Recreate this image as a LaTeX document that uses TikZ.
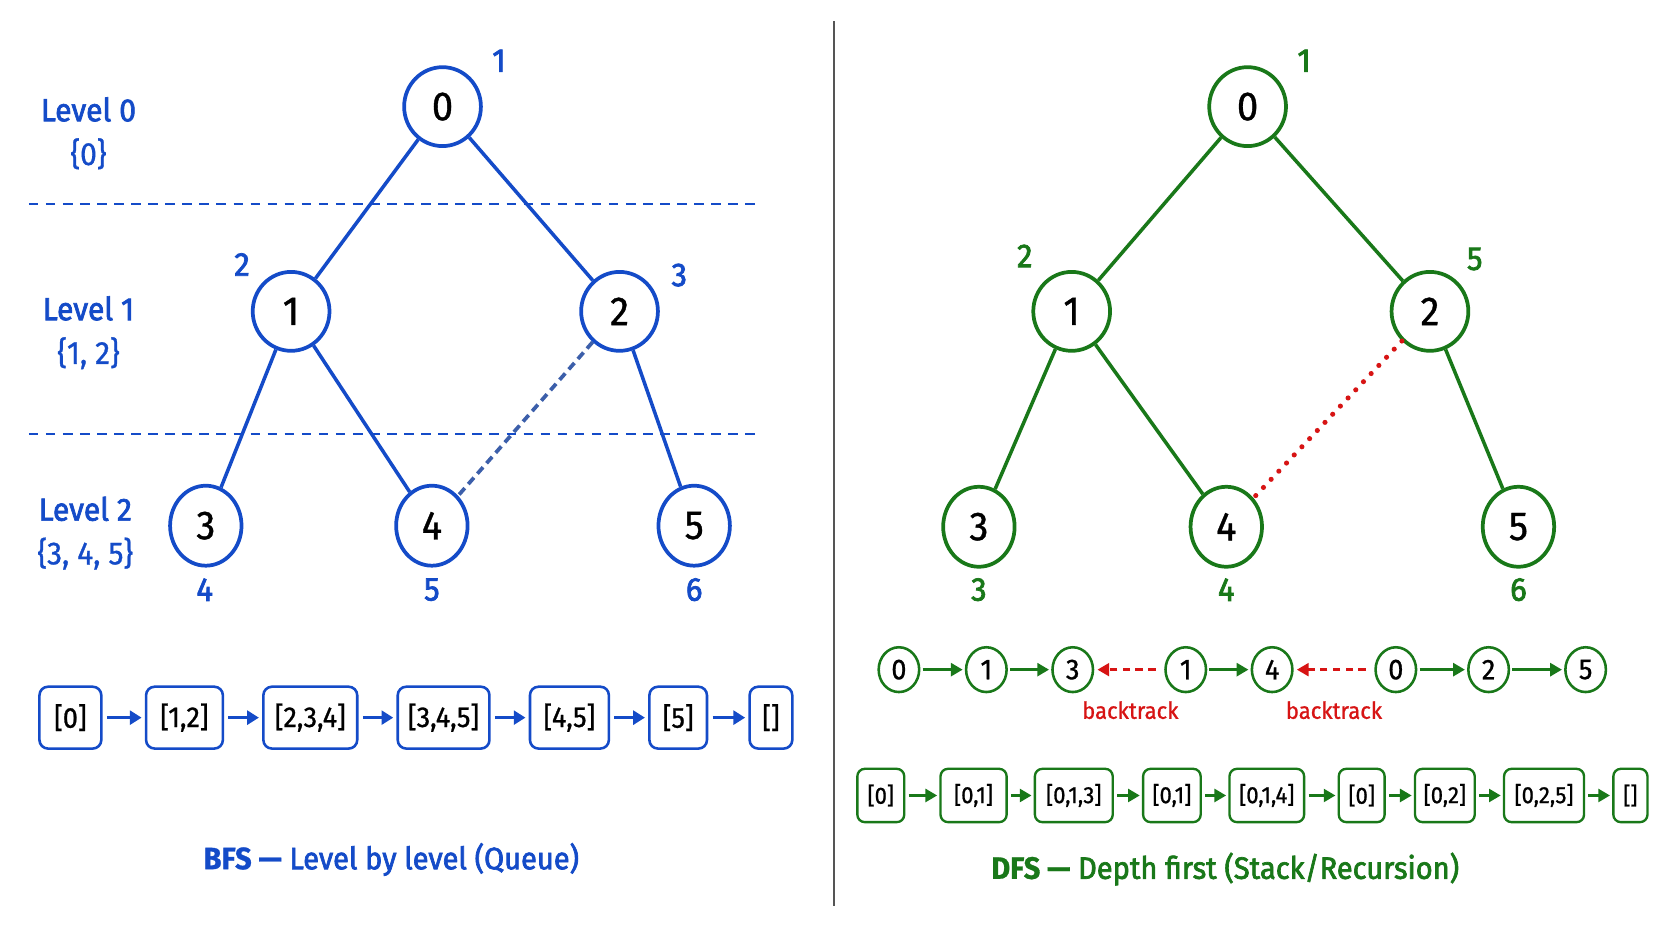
\documentclass[tikz,border=0pt]{standalone}
\usepackage{fontspec}
\setmainfont{Fira Sans}[FakeStretch=0.94, FakeBold=0.9]
\newfontfamily\semib{Fira Sans}[FakeStretch=0.94, FakeBold=2.2]
\usetikzlibrary{arrows.meta,shapes.geometric}
\definecolor{bfsblue}{RGB}{20,75,200}
\definecolor{dfsgreen}{RGB}{25,120,25}
\definecolor{btred}{RGB}{215,20,20}
\definecolor{crossblue}{RGB}{60,95,170}
\definecolor{divgray}{RGB}{85,85,85}
\begin{document}
\begin{tikzpicture}[x=1pt,y=-1pt,
  tnode/.style={ellipse, draw, line width=3.5pt, fill=white, inner sep=0pt, text=black, font=\fontsize{38}{40}\selectfont},
  topn/.style={tnode, minimum width=72pt, minimum height=74pt},
  botn/.style={tnode, minimum width=67pt, minimum height=75pt},
  numlab/.style={inner sep=0pt, font=\semib\fontsize{31}{33}\selectfont},
  lvl/.style={align=center, text=bfsblue, inner sep=0pt, font=\fontsize{30}{41}\selectfont},
  tedge/.style={line width=3.3pt},
  lvline/.style={bfsblue, line width=1.6pt, dash pattern=on 9pt off 7pt},
  qbox/.style={draw=bfsblue, line width=2.4pt, rounded corners=8pt, minimum height=58pt, inner xsep=0pt, text=black, font=\fontsize{27}{29}\selectfont},
  sbox/.style={draw=dfsgreen, line width=2.2pt, rounded corners=7pt, minimum height=50pt, inner xsep=0pt, text=black, font=\fontsize{22}{24}\selectfont},
  scirc/.style={ellipse, draw=dfsgreen, line width=2.4pt, minimum width=38pt, minimum height=42pt, inner sep=0pt, text=black, font=\fontsize{27}{29}\selectfont},
  qarrow/.style={bfsblue, line width=3pt, -{Triangle[length=11pt,width=13pt]}, shorten <=4pt, shorten >=3pt},
  garrow/.style={dfsgreen, line width=3pt, -{Triangle[length=11pt,width=12pt]}, shorten <=2pt, shorten >=2pt},
  rarrow/.style={btred, line width=2.5pt, dash pattern=on 7pt off 5pt, -{Triangle[length=11pt,width=12pt]}, shorten <=8pt, shorten >=3pt},
  title/.style={inner sep=0pt, font=\fontsize{29}{31}\selectfont}
]
\useasboundingbox (0,0) rectangle (1568,882);
\fill[white] (0,0) rectangle (1568,882);

% ---------------- BFS (left) ----------------
\draw[lvline] (27,191) -- (713,191);
\draw[lvline] (27,407) -- (713,407);

\node[topn, draw=bfsblue] (b0) at (415,100) {0};
\node[topn, draw=bfsblue] (b1) at (273,292) {1};
\node[topn, draw=bfsblue] (b2) at (581,292) {2};
\node[botn, draw=bfsblue] (b3) at (193,493) {3};
\node[botn, draw=bfsblue] (b4) at (405,493) {4};
\node[botn, draw=bfsblue] (b5) at (651,493) {5};

\draw[tedge, bfsblue] (b0) -- (b1);
\draw[tedge, bfsblue] (b0) -- (b2);
\draw[tedge, bfsblue] (b1) -- (b3);
\draw[tedge, bfsblue] (b1) -- (b4);
\draw[tedge, bfsblue] (b2) -- (b5);
\draw[crossblue, line width=3.5pt, dash pattern=on 8pt off 5pt] (b2) -- (b4);

\node[numlab, text=bfsblue] (bl0) at (468,57) {1};
\node[numlab, text=bfsblue] (bl1) at (227,248) {2};
\node[numlab, text=bfsblue] (bl2) at (637,258) {3};
\node[numlab, text=bfsblue] (bl3) at (192,553) {4};
\node[numlab, text=bfsblue] (bl4) at (405,553) {5};
\node[numlab, text=bfsblue] (bl5) at (651,553) {6};

\node[lvl] (lv0) at (83,125) {{\semib Level 0}\\\{0\}};
\node[lvl] (lv1) at (83,312) {{\semib Level 1}\\\{1, 2\}};
\node[lvl] (lv2) at (80,500) {{\semib Level 2}\\\{3, 4, 5\}};

\node[qbox, minimum width=58pt] (q0) at (66,673) {[0]};
\node[qbox, minimum width=72pt] (q1) at (173,673) {[1,2]};
\node[qbox, minimum width=88pt] (q2) at (291,673) {[2,3,4]};
\node[qbox, minimum width=86pt] (q3) at (416,673) {[3,4,5]};
\node[qbox, minimum width=74pt] (q4) at (534,673) {[4,5]};
\node[qbox, minimum width=54pt] (q5) at (636,673) {[5]};
\node[qbox, minimum width=40pt] (q6) at (723,673) {[]};
\foreach \a/\b in {q0/q1,q1/q2,q2/q3,q3/q4,q4/q5,q5/q6}
  \draw[qarrow] (\a) -- (\b);

\node[title, text=bfsblue] (bt) at (367,806) {{\bfseries BFS —} {\semib Level by level (Queue)}};

% ---------------- divider ----------------
\coordinate (dtop) at (782,20);
\coordinate (dbot) at (782,850);
\draw[divgray, line width=2pt] (dtop) -- (dbot);

% ---------------- DFS (right) ----------------
\node[topn, draw=dfsgreen] (d0) at (1170,100) {0};
\node[topn, draw=dfsgreen] (d1) at (1005,292) {1};
\node[topn, draw=dfsgreen] (d2) at (1341,292) {2};
\node[botn, draw=dfsgreen] (d3) at (918,494) {3};
\node[botn, draw=dfsgreen] (d4) at (1150,494) {4};
\node[botn, draw=dfsgreen] (d5) at (1424,494) {5};

\draw[tedge, dfsgreen] (d0) -- (d1);
\draw[tedge, dfsgreen] (d0) -- (d2);
\draw[tedge, dfsgreen] (d1) -- (d3);
\draw[tedge, dfsgreen] (d1) -- (d4);
\draw[tedge, dfsgreen] (d2) -- (d5);
\draw[btred, line width=4.8pt, line cap=round, dash pattern=on 0pt off 10.5pt] (d2) -- (d4);

\node[numlab, text=dfsgreen] (dl0) at (1223,57) {1};
\node[numlab, text=dfsgreen] (dl1) at (961,240) {2};
\node[numlab, text=dfsgreen] (dl2) at (1383,243) {5};
\node[numlab, text=dfsgreen] (dl3) at (918,553) {3};
\node[numlab, text=dfsgreen] (dl4) at (1150,553) {4};
\node[numlab, text=dfsgreen] (dl5) at (1424,553) {6};

\node[scirc] (s0) at (843,628) {0};
\node[scirc] (s1) at (925,628) {1};
\node[scirc] (s2) at (1006,628) {3};
\node[scirc] (s3) at (1112,628) {1};
\node[scirc] (s4) at (1193,628) {4};
\node[scirc] (s5) at (1309,628) {0};
\node[scirc] (s6) at (1396,628) {2};
\node[scirc] (s7) at (1487,628) {5};
\draw[garrow] (s0) -- (s1);
\draw[garrow] (s1) -- (s2);
\draw[rarrow] (s3) -- (s2);
\draw[garrow] (s3) -- (s4);
\draw[rarrow] (s5) -- (s4);
\draw[garrow] (s5) -- (s6);
\draw[garrow] (s6) -- (s7);
\node[inner sep=0pt, text=btred, font=\fontsize{22}{24}\selectfont] (bk1) at (1060,666) {backtrack};
\node[inner sep=0pt, text=btred, font=\fontsize{22}{24}\selectfont] (bk2) at (1251,666) {backtrack};

\node[sbox, minimum width=44pt] (k0) at (826,746) {[0]};
\node[sbox, minimum width=62pt] (k1) at (913,746) {[0,1]};
\node[sbox, minimum width=73pt] (k2) at (1007,746) {[0,1,3]};
\node[sbox, minimum width=54pt] (k3) at (1099,746) {[0,1]};
\node[sbox, minimum width=70pt] (k4) at (1188,746) {[0,1,4]};
\node[sbox, minimum width=43pt] (k5) at (1277,746) {[0]};
\node[sbox, minimum width=56pt] (k6) at (1355,746) {[0,2]};
\node[sbox, minimum width=75pt] (k7) at (1448,746) {[0,2,5]};
\node[sbox, minimum width=32pt] (k8) at (1529,746) {[]};
\foreach \a/\b in {k0/k1,k1/k2,k2/k3,k3/k4,k4/k5,k5/k6,k6/k7,k7/k8}
  \draw[garrow, shorten <=3pt, shorten >=2pt] (\a) -- (\b);

\node[title, text=dfsgreen] (dt) at (1149,815) {{\bfseries DFS —} {\semib Depth first (Stack/Recursion)}};
\end{tikzpicture}
\end{document}
